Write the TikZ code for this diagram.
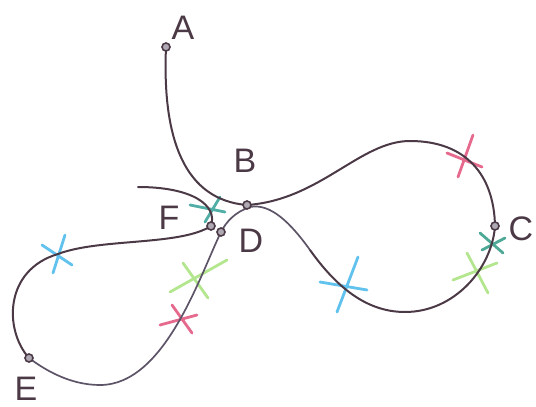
\documentclass[tikz,border=0pt]{standalone}
\usepackage{fontspec}
\setmainfont{Liberation Sans}
\definecolor{ink}{HTML}{4B3946}
\definecolor{inkgray}{HTML}{5E5468}
\definecolor{pinkx}{HTML}{E0507A}
\definecolor{cyanx}{HTML}{45B8EA}
\definecolor{limex}{HTML}{A6E27A}
\definecolor{tealx}{HTML}{2E9A82}
\tikzset{
  curve/.style={draw=ink, line width=2pt, line cap=round, line join=round},
  curvegray/.style={draw=inkgray, line width=1.7pt, line cap=round},
  dotnode/.style={circle, draw=ink, fill=inkgray!50, line width=1.6pt, inner sep=0pt, minimum size=8pt},
  lbl/.style={text=ink, font=\fontsize{34}{34}\selectfont, inner sep=0pt},
  crossline/.style={line width=2.8pt, line cap=round, opacity=0.85},
}
\begin{document}
\begin{tikzpicture}[x=1pt, y=-1pt]
\useasboundingbox (0,0) rectangle (536,407);
% key points
\coordinate (a) at (166,47);
\coordinate (b) at (247,205);
\coordinate (c) at (495,226);
\coordinate (d) at (221,232);
\coordinate (e) at (29,358);
\coordinate (f) at (211,226);
\coordinate (top) at (410,141);
\coordinate (bot) at (405,312);
\coordinate (mid) at (310,250);
\coordinate (nearb) at (250,207);
\coordinate (ebot) at (100,385);
\coordinate (ecy) at (58,254);
\coordinate (free) at (138,187);
% crosses (under the curve)
\draw[crossline, tealx!80!cyanx] (190,205) -- (225,212) (205,222) -- (220,197);
\draw[crossline, cyanx] (65,235) -- (53,273) (42,245) -- (72,265);
\draw[crossline, limex] (227,260) -- (170,292) (183,263) -- (208,298);
\draw[crossline, pinkx] (160,325) -- (197,315) (172,305) -- (192,333);
\draw[crossline, pinkx] (473,135) -- (458,177) (447,153) -- (482,167);
\draw[crossline, tealx] (480,233) -- (503,253) (482,250) -- (505,238);
\draw[crossline, limex] (467,253) -- (488,293) (453,280) -- (497,263);
\draw[crossline, cyanx] (358,257) -- (337,312) (320,282) -- (367,290);
% the curve
\draw[curve] (a) .. controls (162,140) and (185,200) .. (b)
  .. controls (320,200) and (360,141) .. (top)
  .. controls (466,141) and (494,175) .. (c)
  .. controls (492,268) and (455,312) .. (bot)
  .. controls (365,312) and (335,285) .. (mid);
\draw[curvegray] (mid) .. controls (290,222) and (270,203) .. (nearb)
  .. controls (235,212) and (226,222) .. (d)
  .. controls (200,275) and (165,385) .. (ebot)
  .. controls (70,385) and (45,370) .. (e);
\draw[curve] (e) .. controls (4,330) and (4,270) .. (ecy)
  .. controls (100,238) and (180,246) .. (f)
  .. controls (218,205) and (192,187) .. (free);
% dots
\node[dotnode] (A) at (a) {};
\node[dotnode] (B) at (b) {};
\node[dotnode] (C) at (c) {};
\node[dotnode] (D) at (d) {};
\node[dotnode] (E) at (e) {};
\node[dotnode] (F) at (f) {};
% labels
\node[lbl] (LA) at (183,28) {A};
\node[lbl] (LB) at (245,161) {B};
\node[lbl] (LC) at (521,229) {C};
\node[lbl] (LD) at (251,241) {D};
\node[lbl] (LE) at (26,389) {E};
\node[lbl] (LF) at (169,218) {F};
\end{tikzpicture}
\end{document}
